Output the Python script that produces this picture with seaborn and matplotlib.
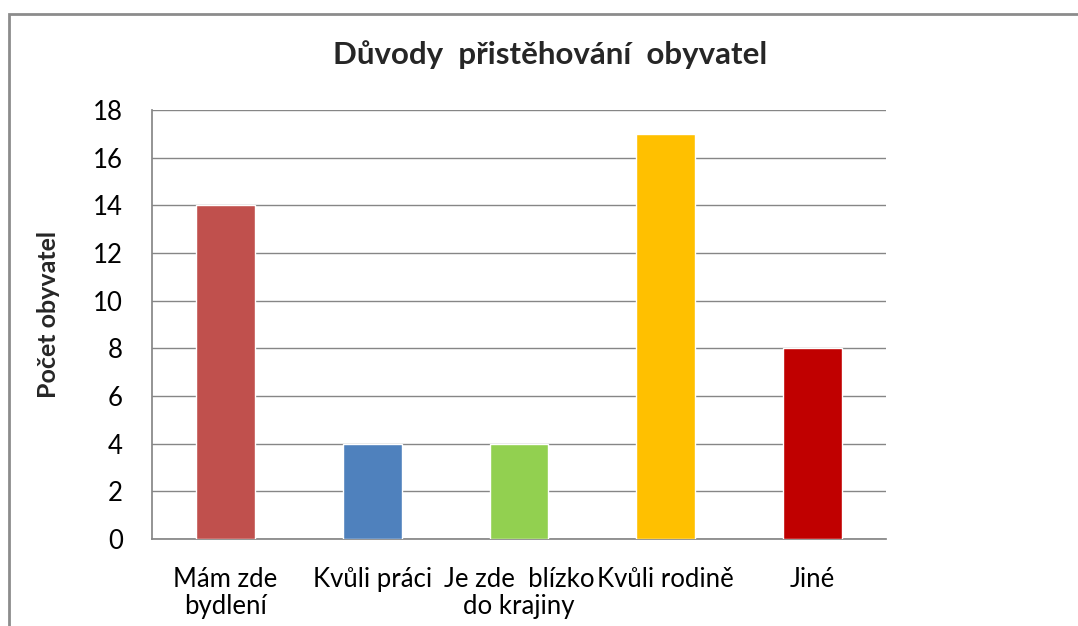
import matplotlib

matplotlib.use("Agg")
import matplotlib.pyplot as plt
import pandas as pd
import seaborn as sns
from matplotlib.patches import Rectangle

categories = ["Mám zde\nbydlení", "Kvůli práci", "Je zde  blízko\ndo krajiny", "Kvůli rodině", "Jiné"]
counts = [14, 4, 4, 17, 8]
colors = ["#C0504D", "#4F81BD", "#92D050", "#FFC000", "#C00000"]

sns.set_theme(style="white")
plt.rcParams["font.family"] = ["Lato", "DejaVu Sans"]

df = pd.DataFrame({"duvod": categories, "pocet": counts})

fig = plt.figure(figsize=(10.78, 6.26), dpi=100)
ax = fig.add_axes([152 / 1078, 1 - 539 / 626, (886 - 152) / 1078, (539 - 110) / 626])

sns.barplot(data=df, x="duvod", y="pocet", hue="duvod", palette=colors,
            width=0.4, legend=False, saturation=1, ax=ax, zorder=3)

ax.set_ylim(0, 18)
ax.set_yticks(range(0, 19, 2))
ax.grid(axis="y", color="#868686", linewidth=1, zorder=0)
for side in ["top", "right"]:
    ax.spines[side].set_visible(False)
ax.spines["left"].set_color("#868686")
ax.spines["bottom"].set_color("#868686")
ax.tick_params(axis="both", length=0, labelsize=18.5, colors="#000000")
ax.tick_params(axis="y", pad=21)
ax.tick_params(axis="x", pad=20)
for lbl in ax.get_xticklabels():
    lbl.set_linespacing(1.1)
ax.set_xlabel("")
ax.set_ylabel("Počet obyvatel", fontsize=18, fontweight="bold")
ax.yaxis.set_label_coords((60 - 152) / 734, (539 - 314) / 429)
fig.text(550 / 1078, 1 - 55 / 626, "Důvody  přistěhování  obyvatel", ha="center", va="center",
         fontsize=22.5, fontweight="bold")

fig.patches.append(Rectangle((9 / 1078, -0.05), 1.2, 1 - 14 / 626 + 0.05, transform=fig.transFigure,
                             fill=False, edgecolor="#8c8c8c", linewidth=2))

fig.savefig("out.png", dpi=100)
